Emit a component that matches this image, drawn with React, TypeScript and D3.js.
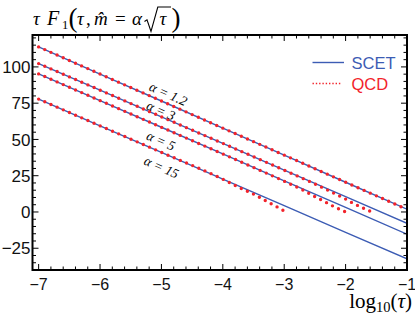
import React from 'react';
import * as d3 from 'd3';

// chart size
const W = 415;
const H = 323;

// log10(tau) sample points for the SCET lines
const logTau = [-7, -6, -5, -4, -3, -2, -1];

// SCET (straight lines) tau*F1 values, read at each decade
const scet12 = [113.8, 95.1, 76.5, 57.8, 39.2, 20.5, 1.9];
const scet3 = [102.3, 84.0, 65.6, 47.3, 28.9, 10.6, -7.8];
const scet5 = [95.2, 76.8, 58.4, 40.0, 21.5, 3.2, -15.3];
const scet15 = [77.8, 59.4, 41.1, 22.7, 4.4, -14.0, -32.3];

// QCD (dotted) curves, they fall below SCET near the endpoint
const qcdX12 = [-7, -6, -5, -4, -3, -2, -1];
const qcdY12 = [113.8, 95.1, 76.5, 57.8, 39.2, 20.5, 1.8];
const qcdX3 = [-7, -6, -5, -4, -3, -2.5, -2.3, -2.1, -2.0, -1.9, -1.8, -1.7, -1.6];
const qcdY3 = [102.3, 84.0, 65.6, 47.3, 28.8, 19.3, 15.2, 11.0, 8.9, 6.5, 4.4, 2.4, 0.5];
const qcdX5 = [-7, -6, -5, -4, -3.5, -3, -2.7, -2.5, -2.3, -2.2, -2.1, -2.0];
const qcdY5 = [95.2, 76.8, 58.4, 40.0, 30.7, 21.2, 15.2, 10.6, 6.2, 3.9, 1.9, 0.0];
const qcdX15 = [-7, -6, -5, -4, -3.7, -3.5, -3.3, -3.1, -3.0];
const qcdY15 = [77.8, 59.4, 41.1, 22.6, 16.2, 12.3, 7.7, 3.1, 0.7];

// curve labels and where they sit (logTau, value)
const alphaLabels = ['α = 1.2', 'α = 3', 'α = 5', 'α = 15'];
const labelX = [-4.89, -5.01, -5.01, -5.0];
const labelY = [81.3, 69.8, 49.1, 30.8];

const xMajor = [-7, -6, -5, -4, -3, -2, -1];
const yMajor = [-25, 0, 25, 50, 75, 100];

const BLUE = '#3c5cb4';
const RED = '#f2232b';

const fmt = (v: number) => (v < 0 ? '\u2212' + Math.abs(v) : String(v));

export default function App() {
  const x = d3.scaleLinear().domain([-7.1, -1]).range([32.5, 407]);
  const y = d3.scaleLinear().domain([-40, 122]).range([270, 35]);
  const [x0, x1] = x.range();
  const [y0, y1] = y.range(); // y0 bottom, y1 top

  const scet = [scet12, scet3, scet5, scet15];
  const qcd = [
    [qcdX12, qcdY12],
    [qcdX3, qcdY3],
    [qcdX5, qcdY5],
    [qcdX15, qcdY15],
  ];

  const line = d3
    .line<[number, number]>()
    .x((d) => x(d[0]))
    .y((d) => y(d[1]));
  const curve = d3
    .line<[number, number]>()
    .x((d) => x(d[0]))
    .y((d) => y(d[1]))
    .curve(d3.curveMonotoneX);

  // dots of the QCD curve: ten per decade along the line
  const dotStep =
    Math.hypot(x(logTau[1]) - x(logTau[0]), y(scet12[1]) - y(scet12[0])) / 10;
  const angle =
    (Math.atan2(y(scet12[6]) - y(scet12[0]), x(logTau[6]) - x(logTau[0])) * 180) / Math.PI;

  const xMinor = d3.range(-35, -4).map((i) => i / 5);
  const yMinor = d3.range(-40, 123, 5);

  return (
    <div style={{ position: 'absolute', left: 0, top: 0 }}>
      <svg width={W} height={H} style={{ display: 'block', background: '#fff' }}>
        <defs>
          <clipPath id="plot">
            <rect x={x0} y={y1} width={x1 - x0} height={y0 - y1} />
          </clipPath>
        </defs>

        <g clipPath="url(#plot)">
          {scet.map((s, i) => (
            <path
              key={'s' + i}
              d={line(logTau.map((t, j) => [t, s[j]] as [number, number])) || ''}
              fill="none"
              stroke={BLUE}
              strokeWidth={1.4}
            />
          ))}
        </g>
        {qcd.map(([xs, ys], i) => (
          <path
            key={'q' + i}
            d={curve(xs.map((t, j) => [t, ys[j]] as [number, number])) || ''}
            fill="none"
            stroke={RED}
            strokeWidth={3.4}
            strokeLinecap="round"
            strokeDasharray={`0 ${dotStep}`}
          />
        ))}

        {/* curve labels */}
        {alphaLabels.map((t, i) => (
          <text
            key={'l' + i}
            x={x(labelX[i])}
            y={y(labelY[i])}
            transform={`rotate(${angle} ${x(labelX[i])} ${y(labelY[i])})`}
            textAnchor="middle"
            dominantBaseline="central"
            fontFamily="'Liberation Serif', 'Times New Roman', serif"
            fontStyle="italic"
            fontSize={13.5}
          >
            {t}
          </text>
        ))}

        {/* frame ticks */}
        <g stroke="#000" strokeWidth={1}>
          {xMinor.map((v) => {
            const len = xMajor.includes(v) ? 6 : 3.5;
            return (
              <g key={'xt' + v}>
                <line x1={x(v)} x2={x(v)} y1={y0} y2={y0 - len} />
                <line x1={x(v)} x2={x(v)} y1={y1} y2={y1 + len} />
              </g>
            );
          })}
          {yMinor.map((v) => {
            const len = yMajor.includes(v) ? 6 : 3.5;
            return (
              <g key={'yt' + v}>
                <line x1={x0} x2={x0 + len} y1={y(v)} y2={y(v)} />
                <line x1={x1} x2={x1 - len} y1={y(v)} y2={y(v)} />
              </g>
            );
          })}
        </g>
        <rect
          x={x0}
          y={y1}
          width={x1 - x0}
          height={y0 - y1}
          fill="none"
          stroke="#000"
          strokeWidth={2}
        />

        {/* tick labels */}
        <g fontFamily="'Liberation Sans', Arial, sans-serif" fill="#111">
          {xMajor.map((v) => (
            <text key={'xl' + v} x={x(v)} y={289.5} textAnchor="middle" fontSize={16}>
              {fmt(v)}
            </text>
          ))}
          {yMajor.map((v) => (
            <text key={'yl' + v} x={30.5} y={y(v)} dy="0.36em" textAnchor="end" fontSize={17}>
              {fmt(v)}
            </text>
          ))}
        </g>

        {/* axis label */}
        <text
          x={412}
          y={308}
          textAnchor="end"
          fontFamily="'Liberation Serif', 'Times New Roman', serif"
          fontSize={21}
        >
          log
          <tspan fontSize={14.5} dy={4}>10</tspan>
          <tspan dy={-4}>(</tspan>
          <tspan fontStyle="italic">τ</tspan>)
        </text>

        {/* title */}
        <g fontFamily="'Liberation Serif', 'Times New Roman', serif" fontSize={19}>
          <text x={33} y={25} fontStyle="italic">τ</text>
          <text x={47} y={25} fontStyle="italic" fontSize={20}>F</text>
          <text x={62} y={28.5} fontSize={12.5}>1</text>
          <text x={68.5} y={27} fontSize={27}>(</text>
          <text x={77} y={25} fontStyle="italic">τ</text>
          <text x={86} y={25}>,</text>
          <text x={94} y={25} fontStyle="italic">{'m\u0302'}</text>
          <text x={115} y={25}>=</text>
          <text x={132} y={25} fontStyle="italic">α</text>
          <path
            d="M144.5,21.5 L147,19.8 L151,31.5 L157.8,7 L171,7"
            fill="none"
            stroke="#000"
            strokeWidth={1.1}
          />
          <text x={159.5} y={25} fontStyle="italic">τ</text>
          <text x={171.5} y={27} fontSize={27}>)</text>
        </g>

        {/* legend */}
        <line x1={312.5} x2={344} y1={62.5} y2={62.5} stroke={BLUE} strokeWidth={1.4} />
        <line
          x1={312.5}
          x2={342}
          y1={83.5}
          y2={83.5}
          stroke={RED}
          strokeWidth={1.4}
          strokeDasharray="1.4 1.9"
        />
        <g fontFamily="'Liberation Sans', Arial, sans-serif" fontSize={16.5}>
          <text x={351.5} y={68.5} fill={BLUE}>SCET</text>
          <text x={351.5} y={89.5} fill={RED}>QCD</text>
        </g>
      </svg>
    </div>
  );
}
